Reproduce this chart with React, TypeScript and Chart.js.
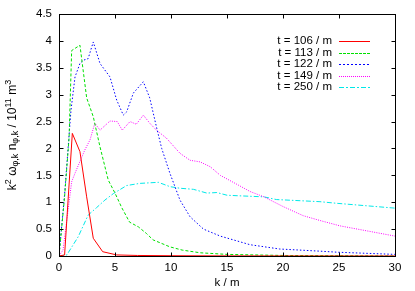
import { useEffect, useRef } from "react";
import { Chart, registerables } from "chart.js";

Chart.register(...registerables);

// ---- data ----
const k106 = [0, 0.5, 1.19, 1.87, 2.47, 3.06, 3.9, 5.15, 7, 10, 15, 20, 30];
const v106 = [0, 0.02, 2.28, 1.94, 1.1, 0.33, 0.08, 0.02, 0.01, 0.005, 0.002, 0.001, 0];

const k113 = [0, 0.5, 0.9, 1.13, 1.87, 2.47, 3.06, 3.66, 4.4, 5.0, 5.6, 6.3, 7.1, 7.8, 8.4, 9.9, 11, 12.6, 15, 20, 30];
const v113 = [0, 1.1, 2.2, 3.82, 3.92, 2.94, 2.59, 2.03, 1.41, 1.17, 0.9, 0.63, 0.54, 0.42, 0.3, 0.17, 0.11, 0.06, 0.03, 0.01, 0];

const k122 = [0, 0.5, 1.07, 1.43, 1.87, 2.17, 2.6, 3.06, 3.66, 4.55, 5.15, 5.74, 6.04, 6.64, 7.53, 8.1, 8.7, 9.17, 9.9, 10.8, 11.7, 12.9, 14.4, 15.9, 17.05, 19.7, 23.3, 24.9, 30];
const v122 = [0, 1.15, 2.71, 3.33, 3.58, 3.64, 3.67, 3.98, 3.58, 3.33, 2.9, 2.62, 2.68, 3.03, 3.24, 2.94, 2.4, 2.0, 1.54, 1.04, 0.73, 0.5, 0.37, 0.28, 0.21, 0.13, 0.09, 0.07, 0.03];

const k149 = [0, 0.36, 1.13, 1.43, 2.3, 2.77, 3.2, 3.66, 4.55, 5.2, 5.65, 6.34, 6.9, 7.53, 8.1, 8.7, 9.6, 9.9, 10.8, 11.7, 12.6, 13.5, 14.4, 16, 17.05, 18.3, 20, 21.8, 23.3, 25.1, 30];
const v149 = [0, 0.11, 1.38, 1.54, 1.97, 2.16, 2.47, 2.34, 2.51, 2.5, 2.34, 2.5, 2.45, 2.62, 2.47, 2.34, 2.19, 2.12, 1.91, 1.78, 1.75, 1.66, 1.5, 1.32, 1.2, 1.1, 0.92, 0.75, 0.66, 0.56, 0.37];

const k250 = [0, 0.7, 1.72, 2.6, 3.36, 4.1, 4.85, 6.04, 7.2, 8.87, 9.9, 10.8, 12, 13.2, 14.1, 15, 16, 18.3, 19.4, 23.3, 24.8, 30];
const v250 = [0, 0.02, 0.36, 0.76, 0.9, 1.04, 1.16, 1.31, 1.35, 1.37, 1.29, 1.26, 1.24, 1.17, 1.18, 1.13, 1.12, 1.1, 1.05, 1.01, 0.98, 0.89];

const seriesLabels = ["t = 106 / m", "t = 113 / m", "t = 122 / m", "t = 149 / m", "t = 250 / m"];
const seriesColors = ["#ff0000", "#00e000", "#0000ff", "#ff00ff", "#00e8e8"];
const seriesDashes: number[][] = [[], [3, 2], [1.5, 2], [1, 1.3], [5, 2, 1.5, 2]];
const legendDashes: number[][] = [[31, 0], [3, 1], [2, 2], [1, 1], [5, 2, 2, 2]];

const xTicks = [0, 5, 10, 15, 20, 25, 30];
const xTickLabels = ["0", "5", "10", "15", "20", "25", "30"];
const yTicks = [0, 0.5, 1, 1.5, 2, 2.5, 3, 3.5, 4, 4.5];
const yTickLabels = ["0", "0.5", "1", "1.5", "2", "2.5", "3", "3.5", "4", "4.5"];

const FONT = '"Liberation Sans", Arial, sans-serif';

function pts(k: number[], v: number[]) {
  return k.map((x, i) => ({ x, y: v[i] }));
}

const decor = {
  id: "decor",
  afterDraw(chart: any) {
    const ctx: CanvasRenderingContext2D = chart.ctx;
    const a = chart.chartArea;
    const xs = chart.scales.x;
    const ys = chart.scales.y;
    ctx.save();
    ctx.setLineDash([]);
    ctx.strokeStyle = "#000";
    ctx.lineWidth = 1;
    const L = a.left + 0.5, R = a.right + 0.5, T = a.top + 0.5, B = a.bottom + 0.5;
    ctx.strokeRect(L, T, R - L, B - T);
    const tl = 4;
    ctx.beginPath();
    xTicks.forEach((v) => {
      const px = Math.round(xs.getPixelForValue(v)) + 0.5;
      ctx.moveTo(px, B); ctx.lineTo(px, B - tl);
      ctx.moveTo(px, T); ctx.lineTo(px, T + tl);
    });
    yTicks.forEach((v) => {
      const py = Math.round(ys.getPixelForValue(v)) + 0.5;
      ctx.moveTo(L, py); ctx.lineTo(L + tl, py);
      ctx.moveTo(R, py); ctx.lineTo(R - tl, py);
    });
    ctx.stroke();

    ctx.fillStyle = "#000";
    ctx.font = `11.5px ${FONT}`;
    ctx.textAlign = "right";
    ctx.textBaseline = "middle";
    yTicks.forEach((v, i) => {
      ctx.fillText(yTickLabels[i], a.left - 7, ys.getPixelForValue(v));
    });
    ctx.textAlign = "center";
    xTicks.forEach((v, i) => {
      ctx.fillText(xTickLabels[i], xs.getPixelForValue(v), a.bottom + 12);
    });
    ctx.fillText("k / m", (a.left + a.right) / 2, a.bottom + 27);

    // y title with super/subscripts
    const pieces: [string, number][] = [
      ["k", 0], ["2", -1], [" \u03c9", 0], ["\u03c6,k", 1], [" n", 0], ["\u03c6,k", 1],
      [" / 10", 0], ["11", -1], [" m", 0], ["3", -1],
    ];
    const mainF = `12px ${FONT}`;
    const smallF = `9px ${FONT}`;
    let total = 0;
    pieces.forEach(([s, m]) => {
      ctx.font = m === 0 ? mainF : smallF;
      total += ctx.measureText(s).width;
    });
    ctx.translate(15.5, (a.top + a.bottom) / 2);
    ctx.rotate(-Math.PI / 2);
    ctx.textAlign = "left";
    ctx.textBaseline = "alphabetic";
    let x = -total / 2;
    pieces.forEach(([s, m]) => {
      ctx.font = m === 0 ? mainF : smallF;
      const dy = m === -1 ? -5 : m === 1 ? 2.5 : 0;
      ctx.fillText(s, x, dy);
      x += ctx.measureText(s).width;
    });
    ctx.setTransform(1, 0, 0, 1, 0, 0);

    // legend
    seriesLabels.forEach((lab, i) => {
      const y = 41 + i * 11.5;
      ctx.font = `11.5px ${FONT}`;
      ctx.textBaseline = "middle";
      ctx.fillStyle = "#000";
      ctx.textAlign = "right";
      ctx.fillText(lab, 332, y);
      ctx.fillStyle = seriesColors[i];
      const pat = legendDashes[i];
      const yy = Math.round(y);
      let px = 339;
      let j = 0;
      while (px < 370) {
        const len = Math.min(pat[j % pat.length], 370 - px);
        if (j % 2 === 0 && len > 0) ctx.fillRect(px, yy, len, 1);
        px += pat[j % pat.length];
        j++;
      }
    });
    ctx.restore();
  },
};

export default function App() {
  const ref = useRef<HTMLCanvasElement | null>(null);
  useEffect(() => {
    document.body.style.margin = "0";
    const ks = [k106, k113, k122, k149, k250];
    const vs = [v106, v113, v122, v149, v250];
    const chart = new Chart(ref.current as HTMLCanvasElement, {
      type: "scatter",
      data: {
        datasets: ks.map((k, i) => ({
          label: seriesLabels[i],
          data: pts(k, vs[i]),
          showLine: true,
          borderColor: seriesColors[i],
          borderWidth: 1,
          borderDash: seriesDashes[i],
          pointRadius: 0,
          tension: 0,
          fill: false,
        })),
      },
      options: {
        responsive: false,
        animation: false,
        layout: { padding: { left: 59, right: 20, top: 14, bottom: 35 } },
        plugins: { legend: { display: false }, tooltip: { enabled: false } },
        scales: {
          x: { type: "linear", min: 0, max: 30, display: false },
          y: { type: "linear", min: 0, max: 4.5, display: false },
        },
      },
      plugins: [decor],
    });
    return () => chart.destroy();
  }, []);
  return <canvas ref={ref} width={415} height={291} style={{ display: "block", width: 415, height: 291 }} />;
}
